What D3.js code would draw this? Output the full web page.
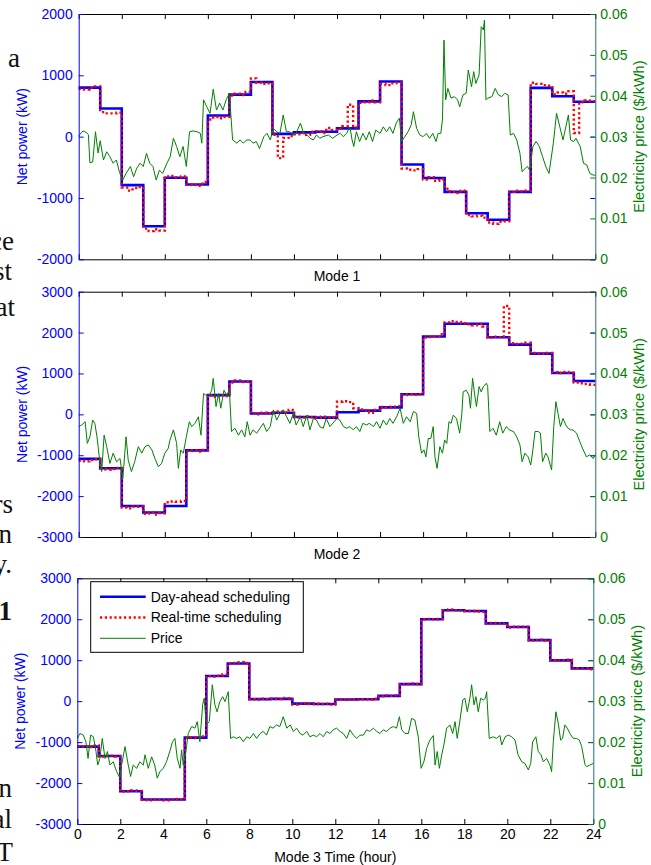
<!DOCTYPE html>
<html lang="en">

<head>
    <meta charset="UTF-8">
    <script src="https://d3js.org/d3.v7.min.js"></script>
    <title>Day-ahead vs real-time scheduling</title>
    <style>
        body {
            margin: 0;
            background: white;
        }

        svg text {
            font-family: "Liberation Sans", Arial, sans-serif;
        }

        .page text {
            font-family: "Liberation Serif", "Times New Roman", serif;
        }
    </style>
</head>

<body>
    <div id="chart"></div>
    <script>
        /*-------------------------------------------------------*/
        /*------------------------ Data -------------------------*/
        /*-------------------------------------------------------*/
        // hourly day-ahead net power (kW), hour 0..23
        const dayAhead1 = [800, 460, -790, -1460, -670, -780, 345, 685, 890, 45, 70, 80,
            135, 575, 900, -455, -675, -900, -1250, -1355, -900, 795, 660, 570];
        const dayAhead2 = [-1090, -1320, -2240, -2400, -2240, -880, 470, 805, 20, 40, -65, -80,
            50, 90, 170, 490, 1905, 2215, 2215, 1885, 1705, 1485, 1010, 815];
        const dayAhead3 = [-1110, -1340, -2200, -2400, -2400, -890, 615, 920, 50, 55, -60, -70,
            40, 45, 130, 415, 2000, 2220, 2200, 1900, 1810, 1490, 995, 800];

        // real-time net power (kW), every 15 min
        const realTime1 = [
            780, 770, 800, 820, 400, 380, 380, 390, -830, -880, -840, -820,
            -1500, -1540, -1510, -1530, -650, -640, -660, -650, -780, -790, -800, -740,
            280, 320, 300, 320, 670, 700, 680, 730, 950, 880, 860, 870,
            30, -350, -20, 10, 40, 60, 30, 80, 90, 60, 140, 110,
            130, 170, 520, 150, 550, 560, 590, 560, 860, 840, 870, 880,
            -520, -540, -550, -530, -700, -660, -720, -690, -850, -900, -920, -880,
            -1280, -1300, -1290, -1320, -1400, -1420, -1390, -1380, -900, -880, -890, -880,
            880, 860, 840, 830, 690, 720, 700, 740, 60, 560, 590, 580];
        const realTime2 = [
            -1130, -1150, -1120, -1100, -1330, -1350, -1340, -1310, -2280, -2300, -2260, -2250,
            -2430, -2400, -2450, -2420, -2150, -2130, -2140, -2120, -900, -880, -910, -870,
            460, 430, 470, 450, 780, 830, 790, 800, 30, 0, 40, 20,
            50, 70, 40, 110, -60, -80, -50, -70, -80, -60, -70, -80,
            310, 320, 300, 150, 120, 100, 40, 110, 180, 170, 190, 200,
            470, 490, 480, 490, 1880, 1890, 1900, 1960, 2250, 2280, 2260, 2230,
            2200, 2180, 2210, 2150, 1880, 1900, 1890, 2650, 1740, 1720, 1730, 1750,
            1500, 1490, 1480, 1500, 1030, 1010, 1040, 1020, 780, 760, 740, 720];
        const realTime3 = [
            -1110, -1100, -1120, -1080, -1350, -1340, -1330, -1350, -2210, -2200, -2180, -2190,
            -2410, -2420, -2400, -2410, -2420, -2400, -2390, -2400, -900, -880, -900, -860,
            610, 600, 620, 650, 920, 930, 950, 930, 50, 40, 60, 50,
            60, 50, 80, 70, -80, -60, -50, -70, -60, -70, -60, -80,
            40, 30, 40, 50, 40, 50, 40, 60, 120, 140, 130, 140,
            410, 420, 430, 420, 2000, 2010, 2000, 2010, 2220, 2240, 2220, 2210,
            2200, 2200, 2190, 2180, 1900, 1910, 1900, 1890, 1800, 1820, 1810, 1820,
            1480, 1490, 1500, 1480, 1000, 990, 1000, 1010, 790, 800, 800, 780];

        // electricity price ($/kWh) as [hour, price]
        const price1 = [[0, 0.0302], [0.2, 0.0314], [0.35, 0.031], [0.45, 0.0305], [0.52, 0.0236], [0.65, 0.0238], [0.78, 0.0312], [0.9, 0.026], [1.0, 0.029], [1.15, 0.0243], [1.3, 0.0263], [1.45, 0.0251], [1.6, 0.0235], [1.75, 0.0243], [1.9, 0.0212], [2.05, 0.0194], [2.2, 0.021], [2.4, 0.0227], [2.55, 0.0202], [2.7, 0.0223], [2.85, 0.0235], [3.0, 0.0227], [3.15, 0.0259], [3.3, 0.0235], [3.45, 0.0227], [3.6, 0.0194], [3.75, 0.0218], [3.9, 0.021], [4.1, 0.0235], [4.25, 0.0251], [4.4, 0.0296], [4.55, 0.0276], [4.7, 0.0251], [4.85, 0.0276], [5.0, 0.0227], [5.15, 0.0312], [5.3, 0.0314], [5.5, 0.0312], [5.65, 0.0308], [5.72, 0.0284], [5.8, 0.039], [5.95, 0.0373], [6.1, 0.0357], [6.25, 0.0416], [6.4, 0.0365], [6.55, 0.0382], [6.7, 0.0365], [6.85, 0.039], [7.0, 0.0406], [7.15, 0.0292], [7.35, 0.0284], [7.5, 0.0292], [7.65, 0.0284], [7.8, 0.0292], [7.95, 0.0292], [8.1, 0.0284], [8.25, 0.0288], [8.4, 0.0271], [8.6, 0.03], [8.75, 0.0308], [8.9, 0.0292], [9.05, 0.032], [9.2, 0.0312], [9.35, 0.0308], [9.5, 0.0353], [9.65, 0.0312], [9.8, 0.0312], [9.95, 0.0304], [10.1, 0.0308], [10.3, 0.0333], [10.45, 0.0308], [10.6, 0.0304], [10.75, 0.0296], [10.9, 0.0292], [11.05, 0.0304], [11.2, 0.0296], [11.35, 0.03], [11.6, 0.0304], [11.8, 0.0296], [12.0, 0.0304], [12.15, 0.0308], [12.3, 0.03], [12.45, 0.0308], [12.6, 0.0324], [12.7, 0.0292], [12.78, 0.0276], [12.9, 0.0312], [13.05, 0.0288], [13.2, 0.0308], [13.35, 0.0292], [13.5, 0.0312], [13.65, 0.0288], [13.8, 0.0316], [14.0, 0.0308], [14.15, 0.0324], [14.3, 0.0312], [14.45, 0.0324], [14.6, 0.0308], [14.75, 0.0333], [14.9, 0.0345], [15.0, 0.0288], [15.15, 0.03], [15.3, 0.0312], [15.45, 0.0329], [15.55, 0.0361], [15.7, 0.032], [15.85, 0.0304], [16.0, 0.03], [16.15, 0.0308], [16.3, 0.0296], [16.45, 0.0308], [16.6, 0.0288], [16.7, 0.0308], [16.82, 0.0308], [16.9, 0.0341], [16.97, 0.0536], [17.05, 0.039], [17.15, 0.0418], [17.3, 0.0394], [17.45, 0.0398], [17.6, 0.039], [17.7, 0.0373], [17.85, 0.0402], [18.0, 0.0406], [18.1, 0.0463], [18.25, 0.0422], [18.35, 0.0459], [18.45, 0.043], [18.6, 0.0451], [18.7, 0.0569], [18.8, 0.0561], [18.85, 0.0585], [18.92, 0.039], [19.0, 0.0394], [19.2, 0.0398], [19.35, 0.0418], [19.5, 0.0402], [19.65, 0.0398], [19.8, 0.0406], [19.95, 0.0402], [20.05, 0.0304], [20.2, 0.0308], [20.35, 0.0292], [20.5, 0.0259], [20.6, 0.0214], [20.75, 0.0223], [20.85, 0.0227], [20.95, 0.0218], [21.1, 0.0276], [21.25, 0.0288], [21.4, 0.0276], [21.55, 0.0251], [21.7, 0.0227], [21.85, 0.021], [22.05, 0.0284], [22.2, 0.0357], [22.35, 0.0324], [22.5, 0.0292], [22.75, 0.0353], [22.85, 0.0292], [23.0, 0.0288], [23.1, 0.0296], [23.3, 0.0276], [23.45, 0.0235], [23.6, 0.0231], [23.75, 0.021], [23.9, 0.0206], [24, 0.0206]];
        const price2 = [[0, 0.027], [0.14, 0.0274], [0.3, 0.0282], [0.4, 0.0229], [0.52, 0.0245], [0.65, 0.0286], [0.75, 0.0278], [0.85, 0.0245], [1.0, 0.0176], [1.07, 0.016], [1.18, 0.0249], [1.3, 0.0221], [1.45, 0.018], [1.6, 0.0205], [1.76, 0.0184], [1.92, 0.0192], [2.05, 0.0143], [2.2, 0.0245], [2.3, 0.0188], [2.45, 0.016], [2.6, 0.0184], [2.77, 0.0221], [2.93, 0.0205], [3.08, 0.0221], [3.24, 0.0225], [3.4, 0.0213], [3.54, 0.0192], [3.7, 0.0172], [3.85, 0.018], [4.0, 0.0205], [4.16, 0.0217], [4.24, 0.0237], [4.4, 0.0262], [4.55, 0.0229], [4.63, 0.0168], [4.74, 0.0213], [4.86, 0.0205], [5.0, 0.0245], [5.14, 0.0282], [5.25, 0.027], [5.4, 0.0278], [5.56, 0.0294], [5.68, 0.0249], [5.8, 0.0351], [5.9, 0.0347], [6.07, 0.0347], [6.18, 0.0359], [6.25, 0.0388], [6.38, 0.0319], [6.5, 0.0351], [6.6, 0.0315], [6.75, 0.0359], [6.87, 0.0347], [7.0, 0.0359], [7.1, 0.0258], [7.26, 0.0266], [7.42, 0.0249], [7.57, 0.0262], [7.72, 0.0245], [7.83, 0.0282], [7.96, 0.0249], [8.1, 0.0262], [8.27, 0.0254], [8.42, 0.0266], [8.58, 0.0278], [8.73, 0.0258], [8.9, 0.027], [9.04, 0.0311], [9.2, 0.0286], [9.35, 0.0302], [9.5, 0.0311], [9.66, 0.0294], [9.81, 0.0278], [9.97, 0.0302], [10.1, 0.0274], [10.3, 0.0294], [10.43, 0.027], [10.6, 0.0298], [10.74, 0.0262], [10.9, 0.029], [11.05, 0.0286], [11.2, 0.027], [11.36, 0.0266], [11.5, 0.029], [11.67, 0.027], [11.8, 0.0278], [12.0, 0.029], [12.13, 0.0286], [12.3, 0.027], [12.45, 0.0266], [12.6, 0.027], [12.75, 0.0262], [12.9, 0.027], [13.06, 0.0258], [13.2, 0.0278], [13.37, 0.0274], [13.5, 0.0278], [13.7, 0.027], [13.84, 0.0282], [14.0, 0.0266], [14.15, 0.0286], [14.3, 0.0274], [14.45, 0.029], [14.6, 0.0278], [14.77, 0.0294], [14.93, 0.0315], [15.08, 0.0278], [15.23, 0.0294], [15.4, 0.0282], [15.55, 0.0307], [15.7, 0.0302], [15.8, 0.0245], [15.93, 0.0205], [16.04, 0.0213], [16.13, 0.0196], [16.24, 0.0241], [16.36, 0.0241], [16.47, 0.027], [16.55, 0.0196], [16.65, 0.0168], [16.78, 0.0221], [16.9, 0.0205], [17.0, 0.0237], [17.1, 0.0229], [17.2, 0.0282], [17.3, 0.0278], [17.4, 0.0298], [17.55, 0.029], [17.7, 0.0254], [17.8, 0.0302], [17.86, 0.0355], [18.0, 0.0359], [18.13, 0.0347], [18.2, 0.0315], [18.3, 0.0388], [18.4, 0.0347], [18.48, 0.0319], [18.6, 0.0368], [18.7, 0.0355], [18.8, 0.0368], [18.94, 0.0376], [19.0, 0.0368], [19.1, 0.0258], [19.25, 0.0266], [19.4, 0.0249], [19.56, 0.0282], [19.7, 0.0254], [19.87, 0.027], [20.0, 0.0262], [20.2, 0.0258], [20.35, 0.0245], [20.5, 0.0225], [20.6, 0.0184], [20.73, 0.0205], [20.88, 0.0196], [21.0, 0.0176], [21.1, 0.0213], [21.2, 0.0258], [21.35, 0.0258], [21.45, 0.0254], [21.55, 0.0184], [21.7, 0.0205], [21.8, 0.0196], [21.97, 0.0164], [22.07, 0.027], [22.17, 0.0331], [22.27, 0.0302], [22.38, 0.027], [22.5, 0.029], [22.63, 0.0274], [22.74, 0.0266], [22.85, 0.0262], [22.96, 0.0262], [23.13, 0.0254], [23.28, 0.0233], [23.44, 0.0213], [23.59, 0.0196], [23.74, 0.0201], [23.9, 0.0192], [24, 0.0201]];
        const price3 = [[0, 0.0209], [0.12, 0.0221], [0.28, 0.0217], [0.4, 0.0201], [0.5, 0.016], [0.62, 0.0217], [0.75, 0.0213], [0.87, 0.0177], [0.95, 0.0144], [1.05, 0.016], [1.16, 0.0209], [1.29, 0.016], [1.4, 0.0177], [1.52, 0.0144], [1.67, 0.0152], [1.83, 0.0128], [1.98, 0.0112], [2.06, 0.0144], [2.22, 0.0189], [2.37, 0.0144], [2.48, 0.0116], [2.6, 0.0144], [2.76, 0.0136], [2.91, 0.0152], [3.07, 0.0144], [3.15, 0.0169], [3.3, 0.0136], [3.46, 0.0164], [3.6, 0.0144], [3.72, 0.0112], [3.84, 0.0128], [4.0, 0.0136], [4.15, 0.0152], [4.3, 0.0177], [4.43, 0.0201], [4.54, 0.0209], [4.65, 0.016], [4.78, 0.0136], [4.85, 0.0181], [4.93, 0.0144], [5.05, 0.0177], [5.16, 0.0221], [5.32, 0.0238], [5.47, 0.0234], [5.58, 0.025], [5.7, 0.0201], [5.83, 0.0291], [5.9, 0.0307], [6.0, 0.0242], [6.14, 0.025], [6.28, 0.034], [6.4, 0.0291], [6.5, 0.0274], [6.63, 0.0299], [6.76, 0.0311], [6.87, 0.0299], [7.02, 0.0323], [7.13, 0.0209], [7.26, 0.0213], [7.4, 0.0209], [7.56, 0.0213], [7.72, 0.0201], [7.88, 0.0213], [8.03, 0.0209], [8.19, 0.0221], [8.34, 0.0209], [8.5, 0.0221], [8.65, 0.0226], [8.8, 0.0217], [8.96, 0.0238], [9.1, 0.0234], [9.27, 0.0242], [9.42, 0.0238], [9.58, 0.0262], [9.74, 0.0234], [9.9, 0.0242], [10.05, 0.0226], [10.2, 0.0234], [10.36, 0.0221], [10.5, 0.0217], [10.67, 0.0226], [10.82, 0.0213], [10.98, 0.0217], [11.13, 0.0213], [11.29, 0.0221], [11.44, 0.0213], [11.6, 0.0226], [11.75, 0.0221], [11.9, 0.023], [12.06, 0.0234], [12.22, 0.0226], [12.37, 0.0221], [12.53, 0.0209], [12.68, 0.023], [12.84, 0.0217], [13.0, 0.0209], [13.15, 0.0217], [13.3, 0.0217], [13.46, 0.023], [13.6, 0.0226], [13.77, 0.0234], [13.93, 0.0226], [14.08, 0.0221], [14.23, 0.023], [14.39, 0.0226], [14.55, 0.0234], [14.7, 0.0238], [14.85, 0.0234], [14.98, 0.0262], [15.09, 0.023], [15.24, 0.0221], [15.4, 0.0221], [15.55, 0.0258], [15.7, 0.0254], [15.86, 0.0213], [15.99, 0.0136], [16.12, 0.0152], [16.25, 0.0185], [16.4, 0.0205], [16.56, 0.0216], [16.64, 0.0144], [16.74, 0.0177], [16.84, 0.0136], [16.95, 0.0169], [17.05, 0.0193], [17.18, 0.0234], [17.33, 0.0242], [17.46, 0.0221], [17.57, 0.025], [17.67, 0.0209], [17.8, 0.0254], [17.93, 0.0303], [18.03, 0.0307], [18.14, 0.0274], [18.26, 0.0307], [18.34, 0.034], [18.45, 0.0291], [18.54, 0.0311], [18.65, 0.0274], [18.76, 0.0307], [18.88, 0.0303], [18.98, 0.0307], [19.04, 0.0323], [19.16, 0.0209], [19.35, 0.0213], [19.5, 0.0209], [19.66, 0.0216], [19.74, 0.0193], [19.9, 0.0213], [20.05, 0.0217], [20.2, 0.0213], [20.36, 0.0205], [20.5, 0.0169], [20.67, 0.0152], [20.82, 0.0148], [20.98, 0.0132], [21.09, 0.0148], [21.18, 0.0201], [21.33, 0.0213], [21.44, 0.0177], [21.57, 0.0169], [21.67, 0.0152], [21.83, 0.016], [21.98, 0.0144], [22.06, 0.0128], [22.14, 0.0201], [22.26, 0.0274], [22.37, 0.0246], [22.48, 0.0205], [22.57, 0.0209], [22.68, 0.0242], [22.79, 0.0234], [22.91, 0.0221], [23.07, 0.0209], [23.22, 0.0209], [23.35, 0.0205], [23.46, 0.0189], [23.61, 0.0146], [23.69, 0.014], [23.84, 0.0144], [24, 0.0148]];

        // axis ticks and labels
        const hourTicks = [0, 2, 4, 6, 8, 10, 12, 14, 16, 18, 20, 22, 24];
        const powerTicks1 = [-2000, -1000, 0, 1000, 2000];
        const powerTicks23 = [-3000, -2000, -1000, 0, 1000, 2000, 3000];
        const priceTicks = [0, 0.01, 0.02, 0.03, 0.04, 0.05, 0.06];
        const modeTitles = ["Mode 1", "Mode 2", "Mode 3 Time (hour)"];
        const legendNames = ["Day-ahead scheduling", "Real-time scheduling", "Price"];

        // cut-off words of the paper page to the left of the figure
        const pageWords = [
            { t: "a", x: 8, y: 67, anchor: "start" },
            { t: "ce", x: 14, y: 250 },
            { t: "st", x: 12, y: 280 },
            { t: "at", x: 15, y: 316 },
            { t: "rs", x: 13, y: 513 },
            { t: "n", x: 12, y: 543 },
            { t: "y.", x: 12, y: 573 },
            { t: "1", x: 12, y: 620, bold: true },
            { t: "n", x: 12, y: 797 },
            { t: "al", x: 12, y: 828 },
            { t: "T", x: 13, y: 861 }
        ];

        /*-------------------------------------------------------*/
        /*--------------------- Layout --------------------------*/
        /*-------------------------------------------------------*/
        const width = 651, height = 865;
        const BLUE = "#0000ff", RED = "#ff0000", GREEN = "#008000";

        const panels = [
            { left: 78.7, right: 595.3, top: 14, bottom: 259.3, pTicks: powerTicks1, dayAhead: dayAhead1, realTime: realTime1, price: price1 },
            { left: 78.7, right: 595.3, top: 291.7, bottom: 537, pTicks: powerTicks23, dayAhead: dayAhead2, realTime: realTime2, price: price2 },
            { left: 77.3, right: 593.3, top: 578.3, bottom: 824, pTicks: powerTicks23, dayAhead: dayAhead3, realTime: realTime3, price: price3 }
        ];

        const svg = d3.select("#chart").append("svg")
            .attr("width", width)
            .attr("height", height);

        svg.append("rect").attr("width", width).attr("height", height).attr("fill", "white");

        // page text fragments
        svg.append("g").attr("class", "page")
            .selectAll("text")
            .data(pageWords)
            .enter()
            .append("text")
            .attr("x", d => d.x)
            .attr("y", d => d.y)
            .attr("text-anchor", d => d.anchor || "end")
            .attr("font-size", 27)
            .attr("font-weight", d => d.bold ? "bold" : "normal")
            .attr("fill", "#111")
            .text(d => d.t);

        /*-------------------------------------------------------*/
        /*--------------------- Panels --------------------------*/
        /*-------------------------------------------------------*/
        panels.forEach((p, i) => {
            const x = d3.scaleLinear().domain([0, 24]).range([p.left, p.right]);
            const y = d3.scaleLinear().domain(d3.extent(p.pTicks)).range([p.bottom, p.top]);
            const y2 = d3.scaleLinear().domain([0, 0.06]).range([p.bottom, p.top]);
            const g = svg.append("g");
            const isLast = i === panels.length - 1;

            // day-ahead (stairs to 24h)
            const daPts = p.dayAhead.map((v, h) => [h, v]).concat([[24, p.dayAhead[23]]]);
            const rtPts = p.realTime.map((v, k) => [k / 4, v]).concat([[24, p.realTime[95]]]);
            const stair = d3.line().x(d => x(d[0])).y(d => y(d[1])).curve(d3.curveStepAfter);

            g.append("path")
                .attr("d", stair(daPts))
                .attr("fill", "none")
                .attr("stroke", BLUE)
                .attr("stroke-width", 2.6);

            g.append("path")
                .attr("d", stair(rtPts))
                .attr("fill", "none")
                .attr("stroke", RED)
                .attr("stroke-width", 2.4)
                .attr("stroke-dasharray", "2.2,2.6");

            g.append("path")
                .attr("d", d3.line().x(d => x(d[0])).y(d => y2(d[1]))(p.price))
                .attr("fill", "none")
                .attr("stroke", GREEN)
                .attr("stroke-width", 1);

            // axes: bottom / top
            const bottomAxis = d3.axisBottom(x).tickValues(hourTicks).tickSize(-5).tickSizeOuter(0).tickPadding(5);
            if (!isLast) bottomAxis.tickFormat("");
            const gb = g.append("g").attr("transform", `translate(0,${p.bottom})`).call(bottomAxis);
            gb.selectAll("text").attr("font-size", 14).attr("fill", "black");

            g.append("g").attr("transform", `translate(0,${p.top})`)
                .call(d3.axisTop(x).tickValues(hourTicks).tickSize(-5).tickSizeOuter(0).tickFormat(""));

            // left power axis (plain hyphen minus, as in the figure)
            const gl = g.append("g").attr("transform", `translate(${p.left},0)`)
                .call(d3.axisLeft(y).tickValues(p.pTicks).tickSize(-5).tickSizeOuter(0).tickPadding(6)
                    .tickFormat(d => String(d)));
            gl.selectAll("line, path").attr("stroke", BLUE);
            gl.selectAll("text").attr("font-size", 14).attr("fill", BLUE);

            // power ticks mirrored on the right edge
            const gr1 = g.append("g").attr("transform", `translate(${p.right},0)`)
                .call(d3.axisRight(y).tickValues(p.pTicks).tickSize(-5).tickSizeOuter(0).tickFormat(""));
            gr1.selectAll("line").attr("stroke", BLUE);
            gr1.select("path").remove();

            // right price axis
            const gr = g.append("g").attr("transform", `translate(${p.right},0)`)
                .call(d3.axisRight(y2).tickValues(priceTicks).tickSize(-5).tickSizeOuter(0).tickPadding(5)
                    .tickFormat(d => d === 0 ? "0" : d.toFixed(2)));
            gr.selectAll("line").attr("stroke", GREEN);
            gr.select("path").attr("stroke", "#23707a");
            gr.selectAll("text").attr("font-size", 14).attr("fill", GREEN);

            // bottom/top domain lines in black
            gb.select("path").attr("stroke", "black");

            // axis titles
            const midY = (p.top + p.bottom) / 2;
            g.append("text")
                .attr("transform", `translate(${p.left - 57},${midY}) rotate(-90)`)
                .attr("text-anchor", "middle")
                .attr("dominant-baseline", "central")
                .attr("font-size", 14)
                .attr("fill", BLUE)
                .text("Net power (kW)");

            g.append("text")
                .attr("transform", `translate(${p.right + 44},${midY}) rotate(-90)`)
                .attr("text-anchor", "middle")
                .attr("dominant-baseline", "central")
                .attr("font-size", 14.5)
                .attr("fill", GREEN)
                .text("Electricity price ($/kWh)");

            g.append("text")
                .attr("x", (p.left + p.right) / 2)
                .attr("y", p.bottom + (isLast ? 38 : 22))
                .attr("text-anchor", "middle")
                .attr("font-size", 14)
                .attr("fill", "black")
                .text(modeTitles[i]);

            /*------------------- legend (last panel) -------------------*/
            if (isLast) {
                const lg = g.append("g").attr("transform", `translate(${p.left + 13.4},${p.top + 3.4})`);
                lg.append("rect")
                    .attr("width", 212.6)
                    .attr("height", 70.6)
                    .attr("fill", "white")
                    .attr("stroke", "black")
                    .attr("stroke-width", 1);
                const styles = [
                    { stroke: BLUE, w: 2.6, dash: null },
                    { stroke: RED, w: 2.4, dash: "2.2,2.6" },
                    { stroke: GREEN, w: 1, dash: null }
                ];
                const rowY = d3.scalePoint().domain(legendNames).range([15, 56.6]);
                legendNames.forEach((name, k) => {
                    lg.append("line")
                        .attr("x1", 9.3).attr("x2", 55)
                        .attr("y1", rowY(name)).attr("y2", rowY(name))
                        .attr("stroke", styles[k].stroke)
                        .attr("stroke-width", styles[k].w)
                        .attr("stroke-dasharray", styles[k].dash);
                    lg.append("text")
                        .attr("x", 60)
                        .attr("y", rowY(name))
                        .attr("dominant-baseline", "central")
                        .attr("font-size", 14)
                        .attr("fill", "black")
                        .text(name);
                });
            }
        });
    </script>
</body>

</html>
